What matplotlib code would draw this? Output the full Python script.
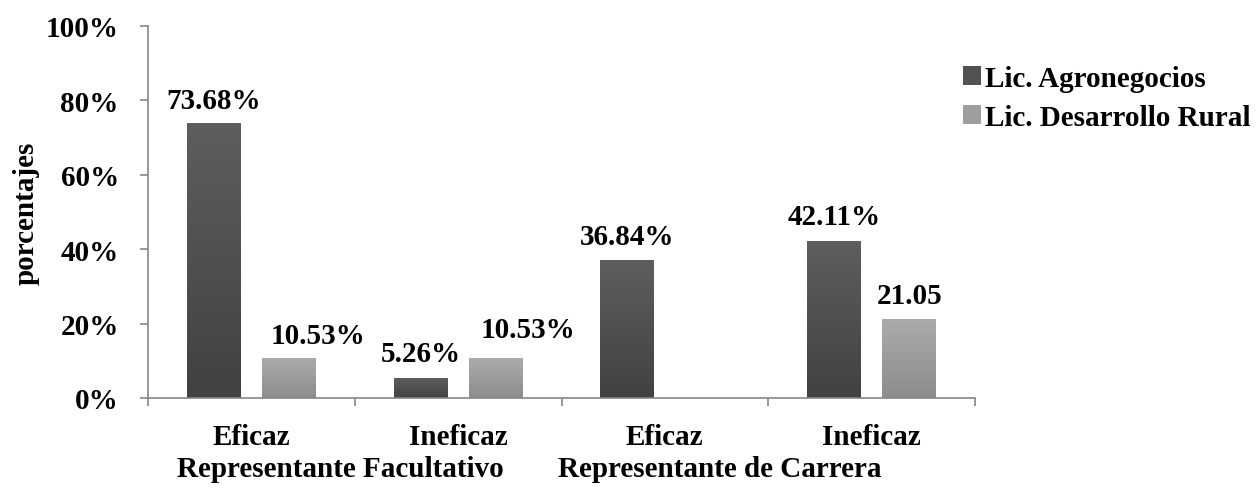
import numpy as np
import matplotlib
matplotlib.use("Agg")
import matplotlib.pyplot as plt
from matplotlib.colors import LinearSegmentedColormap

# ---- data ----
categories = ["Eficaz", "Ineficaz", "Eficaz", "Ineficaz"]
groups = ["Representante Facultativo", "Representante de Carrera"]
series_names = ["Lic. Agronegocios", "Lic. Desarrollo Rural"]
agronegocios = [73.68, 5.26, 36.84, 42.11]
desarrollo = [10.53, 10.53, 0.0, 21.05]
labels_agro = ["73.68%", "5.26%", "36.84%", "42.11%"]
labels_des = ["10.53%", "10.53%", "", "21.05"]
yticks = [0, 20, 40, 60, 80, 100]

# ---- style ----
FONT = "Liberation Serif"
FS = 21
plt.rcParams["font.family"] = [FONT, "DejaVu Serif"]
plt.rcParams["font.weight"] = "bold"

W, H = 1256, 489
fig = plt.figure(figsize=(W / 100, H / 100), dpi=100)
ax = fig.add_axes([148 / W, (H - 399) / H, (975 - 148) / W, (399 - 27) / H])

x = np.arange(len(categories))
bw = 0.261
off = 0.182
dark_cols = ("#5e5e5e", "#414141")
light_cols = ("#ababab", "#8c8c8c")

b1 = ax.bar(x - off, agronegocios, bw, color="#525252", label=series_names[0], zorder=2)
b2 = ax.bar(x + off, desarrollo, bw, color="#9e9e9e", label=series_names[1], zorder=2)

grad = np.linspace(0, 1, 256).reshape(-1, 1)
for bars, cols in ((b1, dark_cols), (b2, light_cols)):
    cmap = LinearSegmentedColormap.from_list("g", [cols[1], cols[0]])
    for p in bars:
        h = p.get_height()
        if h <= 0:
            continue
        x0 = p.get_x()
        ax.imshow(grad, extent=[x0, x0 + p.get_width(), 0, h], origin="lower",
                  aspect="auto", cmap=cmap, zorder=2.5, interpolation="bilinear")

ax.set_xlim(-0.5, len(categories) - 0.5)
ax.set_ylim(0, 100)

# data labels (offsets in pixels -> points)
pt = 0.72
dx_agro = [0, 0, 0, 0]
dy_agro = [16, 17, 17, 17]
dx_des = [29, 32, 0, 0]
dy_des = [16, 22, 0, 17]
for i, p in enumerate(b1):
    if labels_agro[i]:
        ax.annotate(labels_agro[i], (p.get_x() + p.get_width() / 2, p.get_height()),
                    xytext=(dx_agro[i] * pt, dy_agro[i] * pt), textcoords="offset points",
                    ha="center", va="baseline", fontsize=FS, fontweight="bold", zorder=5)
for i, p in enumerate(b2):
    if labels_des[i]:
        ax.annotate(labels_des[i], (p.get_x() + p.get_width() / 2, p.get_height()),
                    xytext=(dx_des[i] * pt, dy_des[i] * pt), textcoords="offset points",
                    ha="center", va="baseline", fontsize=FS, fontweight="bold", zorder=5)

# axes styling
spine_c = "#868686"
for s in ("top", "right"):
    ax.spines[s].set_visible(False)
for s in ("left", "bottom"):
    ax.spines[s].set_color(spine_c)
    ax.spines[s].set_linewidth(1.2)

ax.set_yticks(yticks)
ax.set_yticklabels([f"{v}%" for v in yticks], fontsize=FS, fontweight="bold")
ax.tick_params(axis="y", length=6, width=1.2, color=spine_c, pad=15)

ax.set_xticks(x)
ax.set_xticklabels(categories, fontsize=FS, fontweight="bold")
ax.set_xticks(np.arange(-0.5, len(categories), 1.0), minor=True)
ax.tick_params(axis="x", which="major", length=0, pad=18)
ax.tick_params(axis="x", which="minor", length=6, width=1.2, color=spine_c)

ax.set_ylabel("porcentajes", fontsize=FS, fontweight="bold")
ax.yaxis.set_label_coords(-(148 - 40) / (975 - 148), 0.5)

# second-level category labels
fig.text(177 / W, (H - 477) / H, groups[0], ha="left", va="baseline",
         fontsize=FS, fontweight="bold")
fig.text(558 / W, (H - 477) / H, groups[1], ha="left", va="baseline",
         fontsize=FS, fontweight="bold")

leg = fig.legend(handles=[b1, b2], labels=series_names, loc="upper left",
                 bbox_to_anchor=(963 / W, (H - 66) / H), frameon=False,
                 prop={"family": FONT, "weight": "bold", "size": FS},
                 handlelength=0.62, handleheight=0.62, handletextpad=0.12,
                 labelspacing=0.4, borderpad=0, borderaxespad=0)

fig.savefig("out.png", dpi=100)
